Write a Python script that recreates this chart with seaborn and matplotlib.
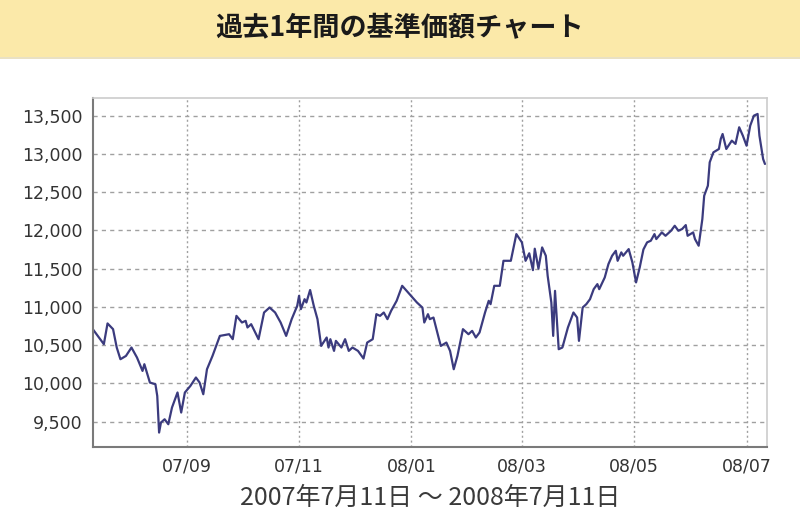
import pandas as pd
import seaborn as sns
import matplotlib.pyplot as plt
import matplotlib.dates as mdates
from matplotlib.ticker import FuncFormatter, MultipleLocator
from matplotlib.patches import Rectangle

# NAV series (days counted from 2007-07-11)
start_date = '2007-07-11'
day_offset = [1, 7, 9, 12, 14, 16, 19, 22, 25, 28, 29, 32, 35, 36, 37, 38, 40, 42, 44, 47,
              49, 51, 54, 57, 59, 61, 63, 66, 70, 75, 77, 79, 82, 84, 85, 87, 91, 94, 97, 100,
              103, 106, 109, 112, 113, 114, 116, 117, 119, 121, 123, 125, 128, 129, 130, 132, 133, 136, 138, 140,
              142, 145, 148, 150, 153, 155, 157, 159, 161, 163, 166, 169, 173, 177, 180, 181, 183, 184, 186, 189,
              190, 193, 195, 197, 199, 202, 205, 207, 209, 211, 214, 216, 217, 219, 222, 224, 228, 231, 234, 236,
              238, 240, 241, 243, 245, 247, 248, 250, 251, 252, 254, 256, 259, 262, 264, 265, 267, 269, 271, 273,
              275, 276, 279, 281, 283, 285, 286, 288, 289, 292, 294, 296, 298, 300, 302, 304, 306, 307, 310, 312,
              315, 317, 319, 321, 323, 324, 327, 328, 330, 332, 333, 335, 336, 338, 341, 342, 343, 345, 348, 350,
              352, 354, 356, 358, 360, 362, 363, 365, 366]
nav = [10708, 10512, 10783, 10708, 10468, 10315, 10358, 10468, 10337, 10162, 10250, 10010, 9988, 9835, 9356, 9487, 9530, 9465, 9683, 9880,
       9618, 9880, 9966, 10076, 10010, 9857, 10184, 10358, 10620, 10642, 10577, 10882, 10795, 10817, 10730, 10773, 10577, 10926, 10991, 10926,
       10795, 10620, 10839, 11013, 11144, 10970, 11100, 11057, 11220, 11013, 10839, 10489, 10599, 10468, 10577, 10424, 10555, 10468, 10577, 10424,
       10468, 10424, 10324, 10533, 10577, 10904, 10882, 10926, 10839, 10948, 11079, 11275, 11166, 11057, 10990, 10795, 10904, 10839, 10860, 10577,
       10489, 10533, 10424, 10184, 10358, 10708, 10642, 10686, 10599, 10664, 10926, 11079, 11035, 11275, 11275, 11602, 11602, 11951, 11843, 11602,
       11700, 11480, 11760, 11500, 11777, 11668, 11406, 11057, 10620, 11209, 10446, 10468, 10730, 10926, 10860, 10555, 10991, 11035, 11100, 11231,
       11297, 11231, 11384, 11559, 11668, 11733, 11602, 11712, 11668, 11755, 11581, 11319, 11516, 11750, 11843, 11864, 11951, 11886, 11973, 11929,
       11995, 12060, 11995, 12017, 12069, 11929, 11973, 11886, 11799, 12148, 12453, 12584, 12890, 13020, 13064, 13195, 13260, 13064, 13173, 13130,
       13348, 13238, 13107, 13369, 13500, 13522, 13238, 12933, 12868]

title_text = '過去1年間の基準価額チャート'
period_text = '2007年7月11日 〜 2008年7月11日'

df = pd.DataFrame({'date': pd.Timestamp(start_date) + pd.to_timedelta(day_offset, unit='D'),
                   'nav': nav})

sns.set_theme(style='white')
plt.rcParams['font.family'] = ['Noto Sans CJK JP', 'DejaVu Sans']

fig = plt.figure(figsize=(8, 5.3), dpi=100)

# yellow header band with title
fig.patches.append(Rectangle((0, 1 - 57/530), 1, 57/530, transform=fig.transFigure,
                             facecolor='#fbe9a9', edgecolor='none', zorder=0))
fig.patches.append(Rectangle((0, 1 - 59/530), 1, 2/530, transform=fig.transFigure,
                             facecolor='#e9e1c4', edgecolor='none', zorder=0))
fig.text(0.5, 1 - 28/530, title_text, ha='center', va='center',
         fontsize=19.5, fontweight='bold', color='#1a1a1a')

ax = fig.add_axes([0.116, 0.157, 0.8425, 0.658])
sns.lineplot(data=df, x='date', y='nav', ax=ax, color='#3b3b7e', linewidth=1.6)

ax.set_xlim(pd.Timestamp('2007-07-12'), pd.Timestamp('2008-07-12'))
ax.set_ylim(9170, 13730)

ax.yaxis.set_major_locator(MultipleLocator(500))
ax.yaxis.set_major_formatter(FuncFormatter(lambda v, p: f'{int(v):,}'))
ax.xaxis.set_major_locator(mdates.MonthLocator(bymonth=[1, 3, 5, 7, 9, 11]))
ax.xaxis.set_major_formatter(mdates.DateFormatter('%y/%m'))

ax.grid(axis='y', color='#a0a0a0', linestyle=(0, (3, 3)), linewidth=1.0)
ax.grid(axis='x', color='#a0a0a0', linestyle=(0, (1.5, 2)), linewidth=1.0)

for side in ['left', 'bottom']:
    ax.spines[side].set_color('#7a7a7a')
    ax.spines[side].set_linewidth(1.5)
for side in ['top', 'right']:
    ax.spines[side].set_color('#cccccc')
    ax.spines[side].set_linewidth(1.2)

ax.tick_params(axis='both', direction='inout', length=7, width=1, color='#888888',
               labelsize=12.5, labelcolor='#333333', pad=4, labelfontfamily='DejaVu Sans')

ax.set_xlabel(period_text, fontsize=18, color='#3a3a3a', labelpad=7)
ax.set_ylabel('')

plt.savefig('out.png', dpi=100)
